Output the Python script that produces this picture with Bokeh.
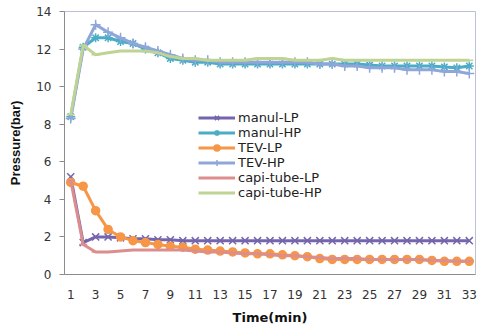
from bokeh.plotting import figure
from bokeh.models import Range1d, FixedTicker, Legend, LegendItem
from bokeh.embed import file_html
from bokeh.resources import INLINE

time_min = list(range(1, 34))

manul_lp = [5.2, 1.7, 2.0, 2.0, 1.95, 1.9, 1.9, 1.85, 1.85, 1.8, 1.8, 1.8, 1.8, 1.8, 1.8, 1.8, 1.8,
            1.8, 1.8, 1.8, 1.8, 1.8, 1.8, 1.8, 1.8, 1.8, 1.8, 1.8, 1.8, 1.8, 1.8, 1.8, 1.8]
manul_hp = [8.4, 12.1, 12.6, 12.6, 12.4, 12.3, 12.0, 11.8, 11.5, 11.4, 11.3, 11.3, 11.2, 11.2, 11.2, 11.2, 11.2,
            11.2, 11.2, 11.2, 11.2, 11.2, 11.2, 11.2, 11.15, 11.1, 11.1, 11.1, 11.1, 11.1, 11.05, 11.0, 11.1]
tev_lp = [4.9, 4.7, 3.4, 2.4, 2.0, 1.8, 1.7, 1.6, 1.5, 1.45, 1.35, 1.3, 1.25, 1.2, 1.15, 1.1, 1.1,
          1.05, 1.0, 0.95, 0.85, 0.8, 0.8, 0.8, 0.8, 0.8, 0.8, 0.8, 0.8, 0.75, 0.7, 0.7, 0.7]
tev_hp = [8.3, 12.0, 13.3, 12.9, 12.6, 12.3, 12.1, 11.9, 11.7, 11.5, 11.4, 11.4, 11.3, 11.3, 11.3, 11.3, 11.3,
          11.3, 11.3, 11.3, 11.2, 11.2, 11.1, 11.1, 11.0, 11.0, 11.0, 10.9, 10.9, 10.9, 10.8, 10.8, 10.7]
capi_lp = [5.0, 1.6, 1.2, 1.2, 1.25, 1.3, 1.3, 1.3, 1.3, 1.3, 1.25, 1.2, 1.2, 1.15, 1.1, 1.1, 1.05,
           1.0, 1.0, 0.95, 0.9, 0.85, 0.85, 0.85, 0.8, 0.8, 0.8, 0.8, 0.8, 0.75, 0.75, 0.7, 0.7]
capi_hp = [8.5, 12.2, 11.7, 11.8, 11.9, 11.9, 11.9, 11.8, 11.6, 11.5, 11.5, 11.4, 11.4, 11.4, 11.4, 11.5, 11.5,
           11.5, 11.4, 11.4, 11.4, 11.5, 11.4, 11.4, 11.4, 11.4, 11.4, 11.4, 11.4, 11.4, 11.4, 11.4, 11.4]

series_names = ["manul-LP", "manul-HP", "TEV-LP", "TEV-HP", "capi-tube-LP", "capi-tube-HP"]
x_ticks = list(range(1, 34, 2))
y_ticks = [0, 2, 4, 6, 8, 10, 12, 14]

FONT = "DejaVu Sans"

p = figure(width=479, height=327, output_backend="svg", toolbar_location=None,
           x_range=Range1d(0.5, 33.5), y_range=Range1d(0, 14),
           min_border_left=64, min_border_right=4, min_border_top=11, min_border_bottom=52)
p.background_fill_color = "white"
p.border_fill_color = "white"
p.outline_line_color = "#b8c2d4"
p.outline_line_width = 1
p.grid.visible = False

p.xaxis.ticker = FixedTicker(ticks=x_ticks)
p.yaxis.ticker = FixedTicker(ticks=y_ticks)
for ax in (p.xaxis, p.yaxis):
    ax.axis_line_color = "#8c8c8c"
    ax.major_tick_line_color = "#8c8c8c"
    ax.minor_tick_line_color = None
    ax.major_label_text_font = FONT
    ax.major_label_text_font_size = "12px"
    ax.major_label_text_color = "#333333"
    ax.axis_label_text_font = FONT
    ax.axis_label_text_font_style = "bold"
    ax.axis_label_text_color = "#111111"
p.xaxis.major_tick_out = 0
p.xaxis.major_tick_in = 0
p.xaxis.major_label_standoff = 15
p.xaxis.axis_label = "Time(min)"
p.xaxis.axis_label_text_font_size = "13px"
p.xaxis.axis_label_standoff = 8
p.yaxis.major_tick_out = 5
p.yaxis.major_tick_in = 0
p.yaxis.major_label_standoff = 8
p.yaxis.axis_label = "Pressure(bar)"
p.yaxis.axis_label_text_font = "Liberation Sans"
p.yaxis.axis_label_text_font_size = "13px"
p.yaxis.axis_label_standoff = 10

styles = [
    (manul_lp, "#7565ad", "x", 10),
    (manul_hp, "#4bacc6", "asterisk", 9),
    (tev_lp, "#f79646", "circle", 8),
    (tev_hp, "#8fa6db", "cross", 10),
    (capi_lp, "#dc8e8c", "dash", 8),
    (capi_hp, "#bfd494", "dash", 8),
]

items = []
for name, (ys, color, marker, size) in zip(series_names, styles):
    r1 = p.line(time_min, ys, line_color=color, line_width=3)
    r2 = p.scatter(time_min, ys, marker=marker, size=size, line_color=color,
                   fill_color=color, line_width=1.5)
    items.append(LegendItem(label=name, renderers=[r1, r2]))

legend = Legend(items=items, location=(134, 74), orientation="vertical")
legend.label_text_font = FONT
legend.label_text_font_size = "13px"
legend.label_text_color = "#222222"
legend.label_height = 15
legend.glyph_height = 15
legend.glyph_width = 37
legend.label_standoff = 3
legend.spacing = 0
legend.padding = 0
legend.margin = 0
legend.border_line_color = None
legend.background_fill_alpha = 0
p.add_layout(legend, "center")

open("out.html", "w").write(file_html(p, INLINE))
